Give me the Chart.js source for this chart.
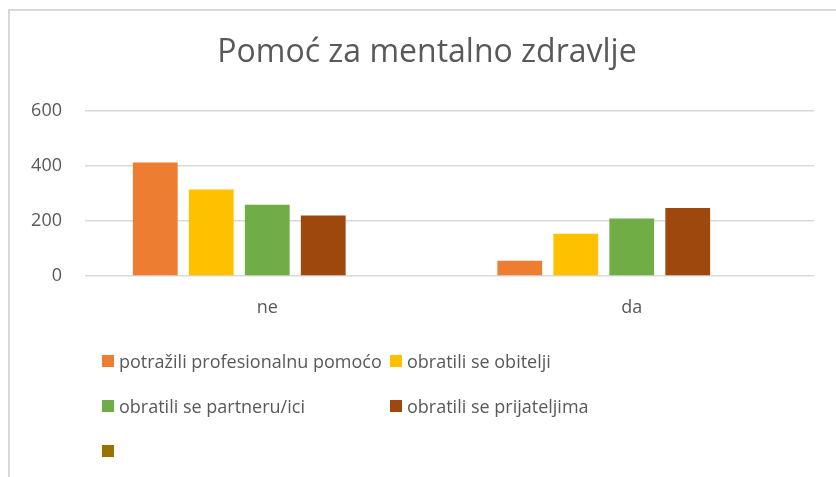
<!DOCTYPE html>
<html>
<head>
<meta charset="utf-8">
<script src="https://cdn.jsdelivr.net/npm/chart.js@4/dist/chart.umd.min.js"></script>
<style>
  html, body { margin: 0; padding: 0; background: #ffffff; }
  #wrap { position: relative; width: 836px; height: 477px; overflow: hidden; }
  #frame { position: absolute; left: 8px; top: 9px; width: 900px; height: 600px;
           border-top: 2px solid #d9d9d9; border-left: 2px solid #d9d9d9; box-sizing: border-box; }
  #c { position: absolute; left: 0; top: 0; }
  #legend { position: absolute; left: 102px; top: 348px; width: 700px;
            display: grid; grid-template-columns: 288px 300px; grid-auto-rows: 45px;
            font-family: "Open Sans", "Liberation Sans", sans-serif; font-size: 18px; color: #595959; }
  .li { display: flex; align-items: center; white-space: nowrap; height: 25px; }
  .sw { width: 12px; height: 12px; margin-right: 5px; flex: 0 0 auto; }
</style>
</head>
<body>
<div id="wrap">
  <div id="frame"></div>
  <canvas id="c" width="836" height="477"></canvas>
  <div id="legend"></div>
</div>
<script>
// ---- data ----
const categories = ['ne', 'da'];
const seriesNames = ['potražili profesionalnu pomoćo', 'obratili se obitelji', 'obratili se partneru/ici', 'obratili se prijateljima', ''];
const profesionalnu = [411, 55];
const obitelji = [313, 153];
const partneru = [258, 208];
const prijateljima = [219, 246];
const prazno = [null, null];
const yTicks = [0, 200, 400, 600];

const colors = ['#ED7D31', '#FFC000', '#70AD47', '#9E480E', '#997300'];
const values = [profesionalnu, obitelji, partneru, prijateljima, prazno];

const FONT = '"Open Sans", "Liberation Sans", sans-serif';
const TXT = '#595959';

const datasets = seriesNames.map((name, i) => ({
  label: name,
  data: values[i],
  backgroundColor: colors[i],
  borderWidth: 0,
  categoryPercentage: 0.768,
  barPercentage: 0.8
}));

const chart = new Chart(document.getElementById('c'), {
  type: 'bar',
  data: { labels: categories, datasets },
  options: {
    responsive: false,
    animation: false,
    layout: { padding: { left: 18, right: 0, top: 0, bottom: 151 } },
    plugins: {
      legend: { display: false },
      tooltip: { enabled: false },
      title: {
        display: true,
        text: 'Pomoć za mentalno zdravlje',
        color: TXT,
        font: { family: FONT, size: 32, weight: 'normal' },
        padding: { top: 34, bottom: 38 }
      }
    },
    scales: {
      x: {
        grid: { display: false, drawTicks: false },
        border: { display: false },
        ticks: { color: TXT, font: { family: FONT, size: 18 }, padding: 21 },
        afterFit: s => { s.height = 50; }
      },
      y: {
        min: 0, max: 600,
        afterBuildTicks: s => { s.ticks = yTicks.map(v => ({ value: v })); },
        grid: { color: '#d9d9d9', lineWidth: 1.5, drawTicks: false },
        border: { display: false },
        ticks: { color: TXT, font: { family: FONT, size: 18 }, padding: 23 },
        afterFit: s => { s.width = 67; }
      },
      yRightSpace: {
        type: 'linear',
        position: 'right',
        min: 0, max: 600,
        grid: { display: false, drawTicks: false },
        border: { display: false },
        ticks: { display: false },
        afterFit: s => { s.width = 22; }
      }
    }
  }
});

// legend built from the chart's datasets
const lg = document.getElementById('legend');
chart.data.datasets.forEach(ds => {
  const item = document.createElement('div');
  item.className = 'li';
  const sw = document.createElement('span');
  sw.className = 'sw';
  sw.style.background = ds.backgroundColor;
  const t = document.createElement('span');
  t.textContent = ds.label;
  item.appendChild(sw);
  item.appendChild(t);
  lg.appendChild(item);
});
</script>
</body>
</html>
